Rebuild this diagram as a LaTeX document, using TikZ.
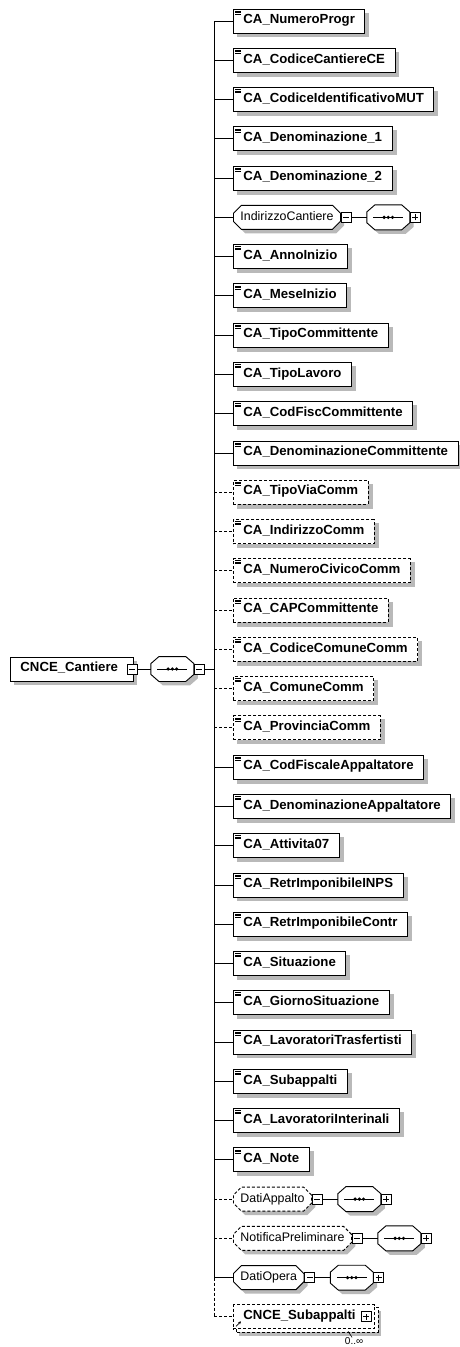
\documentclass[tikz,border=0pt]{standalone}
\usepackage{fontspec}
\setmainfont{Liberation Sans}
\usetikzlibrary{positioning,shapes.misc,backgrounds,arrows.meta}

\definecolor{shadowgray}{RGB}{185,185,185}
\tikzset{
  req/.style={solid},
  opt/.style={dash pattern=on 3pt off 2pt},
  box/.style={draw,fill=white,minimum height=24pt,inner ysep=0pt},
  elemtext/.style={inner xsep=10pt,text height=9.5pt,text depth=4pt,
    font=\fontsize{13.2}{15}\selectfont\bfseries},
  elem/.style={box,elemtext},
  leaf/.style={elem,path picture={
    \foreach \k in {2,3.5,5}
      \draw[solid,line width=0.6pt] ([shift={(2pt,-\k pt)}]path picture bounding box.north west) -- ++(6,0);}},
  cplxshape/.style={chamfered rectangle,chamfered rectangle xsep=4pt,chamfered rectangle ysep=4pt,
    minimum height=24pt,inner ysep=0pt,inner xsep=3pt,text height=9pt,text depth=3pt,
    font=\fontsize{12.4}{14}\selectfont},
  cplx/.style={cplxshape,draw,fill=white},
  seq/.style={minimum width=42pt,minimum height=24pt,inner sep=0pt},
  btn/.style={draw,fill=white,minimum size=10pt,inner sep=0pt},
  minus/.style={btn,path picture={
    \draw[solid] ([xshift=2pt]path picture bounding box.west) -- ([xshift=-2pt]path picture bounding box.east);}},
  plus/.style={btn,path picture={
    \draw[solid] ([xshift=2pt]path picture bounding box.west) -- ([xshift=-2pt]path picture bounding box.east);
    \draw[solid] ([yshift=2pt]path picture bounding box.south) -- ([yshift=-2pt]path picture bounding box.north);}},
}

% octagon of a sequence, and its dots
\newcommand{\octo}[2]{%
  \path[#2] ([xshift=8pt]#1.north west) -- ([xshift=-8pt]#1.north east)
    -- ([yshift=-7pt]#1.north east) -- ([yshift=7pt]#1.south east)
    -- ([xshift=-8pt]#1.south east) -- ([xshift=8pt]#1.south west)
    -- ([yshift=7pt]#1.south west) -- ([yshift=-7pt]#1.north west) -- cycle;}
\newcommand{\seqdots}[1]{%
  \draw ([xshift=-15pt]#1.center) -- ([xshift=15pt]#1.center);
  \foreach \k in {-4.2,0,4.2}
    \fill ([xshift=\k pt]#1.center) circle (1.8pt);}

\begin{document}
\begin{tikzpicture}[x=1pt,y=1pt,line width=0.9pt]
    \useasboundingbox (0,0) rectangle (460,-1347);
    \coordinate (bar) at (214,0);

    % root and its sequence
    \node[elem,anchor=west] (root) at (10,-669) {CNCE\_Cantiere\hspace{5pt}\mbox{}};
    \node[minus] (rootm) at ([xshift=-1pt]root.east) {};
    \node[seq,right=13pt of rootm] (rseq) {};
    \octo{rseq}{draw,fill=white}
    \seqdots{rseq}
    \node[minus,right=0pt of rseq] (rseqm) {};
    \draw (rootm) -- (rseq);
    \draw (rseqm) -- (rseqm -| bar);

    % simple elements
    \foreach \r/\t/\d in {1/CA\_NumeroProgr/req, 2/CA\_CodiceCantiereCE/req,
        3/CA\_CodiceIdentificativoMUT/req, 4/CA\_Denominazione\_1/req,
        5/CA\_Denominazione\_2/req, 7/CA\_AnnoInizio/req, 8/CA\_MeseInizio/req,
        9/CA\_TipoCommittente/req, 10/CA\_TipoLavoro/req, 11/CA\_CodFiscCommittente/req,
        12/CA\_DenominazioneCommittente/req, 13/CA\_TipoViaComm/opt,
        14/CA\_IndirizzoComm/opt, 15/CA\_NumeroCivicoComm/opt, 16/CA\_CAPCommittente/opt,
        17/CA\_CodiceComuneComm/opt, 18/CA\_ComuneComm/opt, 19/CA\_ProvinciaComm/opt,
        20/CA\_CodFiscaleAppaltatore/req, 21/CA\_DenominazioneAppaltatore/req,
        22/CA\_Attivita07/req, 23/CA\_RetrImponibileINPS/req, 24/CA\_RetrImponibileContr/req,
        25/CA\_Situazione/req, 26/CA\_GiornoSituazione/req,
        27/CA\_LavoratoriTrasfertisti/req, 28/CA\_Subappalti/req,
        29/CA\_LavoratoriInterinali/req, 30/CA\_Note/req} {
      \node[leaf,\d,anchor=west] (e\r) at (233,{-21-(\r-1)*39.27}) {\t};
      \draw[\d] (e\r.west -| bar) -- (e\r.west);
    }

    % complex elements with their sequences
    \foreach \r/\t/\d in {6/IndirizzoCantiere/req, 31/DatiAppalto/opt,
        32/NotificaPreliminare/opt, 33/DatiOpera/req} {
      \node[cplx,\d,anchor=west] (e\r) at (233,{-21-(\r-1)*39.27}) {\t};
      \node[minus,right=0pt of e\r] (m\r) {};
      \node[seq,right=15pt of m\r] (s\r) {};
      \octo{s\r}{draw,fill=white}
      \seqdots{s\r}
      \node[plus,right=0pt of s\r] (p\r) {};
      \draw (m\r) -- (s\r);
      \draw[\d] (e\r.west -| bar) -- (e\r.west);
      \begin{scope}[on background layer]
        \node[cplxshape,fill=shadowgray,anchor=west] at ([shift={(4pt,-4pt)}]e\r.west) {\phantom{\t}};
        \octo{s\r}{fill=shadowgray,transform canvas={shift={(4pt,-4pt)}}}
      \end{scope}
    }

    % referenced element, 0..unbounded
    \node[elem,opt,anchor=west] (e34) at (233,{-21-33*39.27}) {CNCE\_Subappalti\hspace{9pt}\mbox{}};
    \node[plus] (p34) at ([xshift=-9pt]e34.east) {};
    \draw[-{Stealth[length=3pt,width=3pt]},line width=0.7pt]
      ([shift={(3pt,3pt)}]e34.south west) -- ++(5,5);
    \node[font=\fontsize{10}{12}\selectfont,inner sep=0pt] (occ34)
      at ([xshift=-21pt,yshift=-12pt]e34.south east) {0..∞};
    \draw[line width=0.6pt] ([xshift=-2pt]occ34.north) -- ++(-4,6);
    \draw[opt] (e34.west -| bar) -- (e34.west);

    % the bar
    \draw (e1.west -| bar) -- (e33.west -| bar);
    \draw[opt] (e33.west -| bar) -- (e34.west -| bar);

    % shadows
    \begin{scope}[on background layer]
      \foreach \n in {root,e1,e2,e3,e4,e5,e7,e8,e9,e10,e11,e12,e13,e14,e15,e16,e17,e18,e19,
          e20,e21,e22,e23,e24,e25,e26,e27,e28,e29,e30}
        \fill[shadowgray] ([shift={(4pt,-4pt)}]\n.south west) rectangle ([shift={(4pt,-4pt)}]\n.north east);
      \octo{rseq}{fill=shadowgray,transform canvas={shift={(4pt,-4pt)}}}
      \fill[shadowgray] ([shift={(6pt,-7pt)}]e34.south west) rectangle ([shift={(6pt,-7pt)}]e34.north east);
      \draw[opt,fill=white] ([shift={(3pt,-3pt)}]e34.south west) rectangle ([shift={(3pt,-3pt)}]e34.north east);
    \end{scope}
\end{tikzpicture}
\end{document}
